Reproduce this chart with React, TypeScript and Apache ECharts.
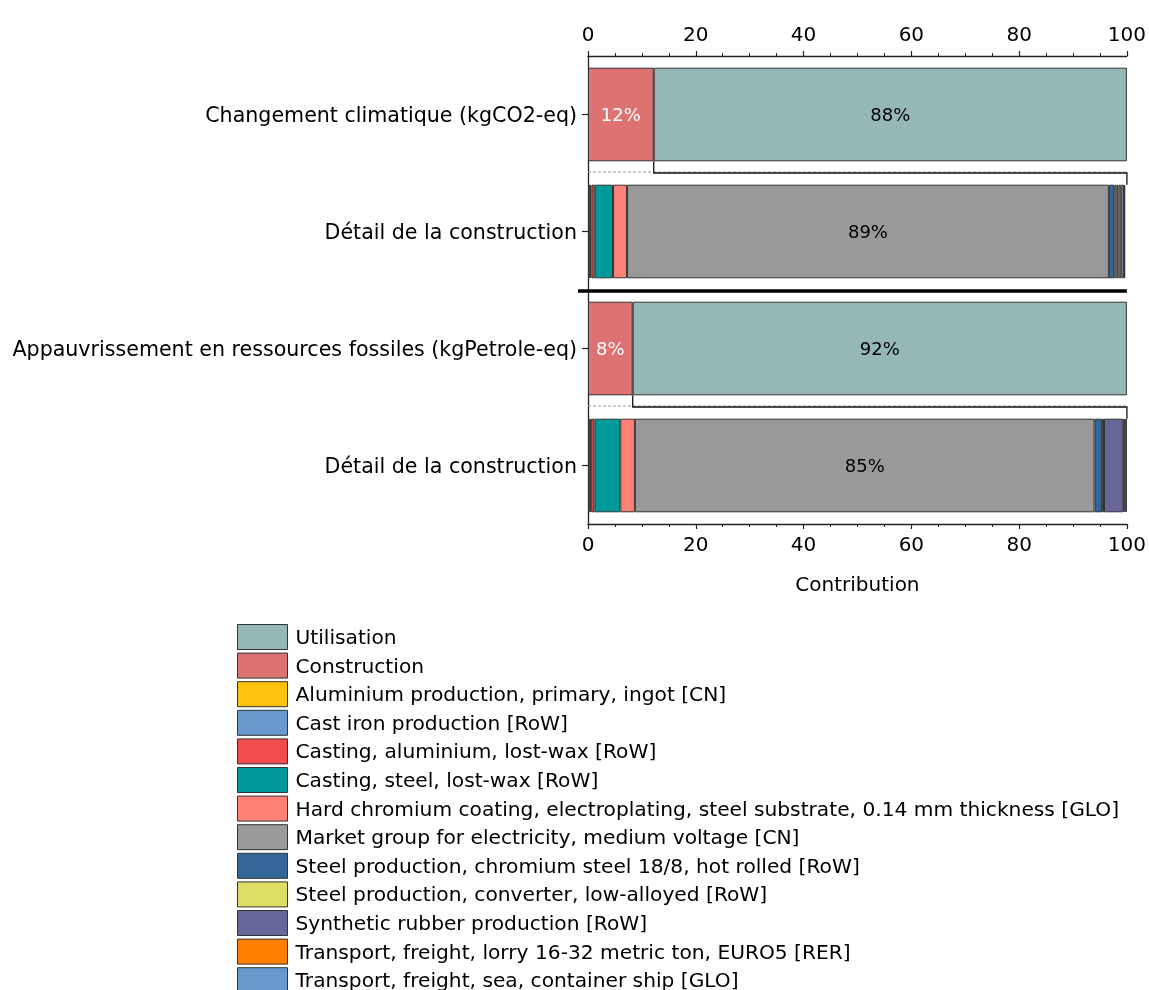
import React, { useEffect, useRef } from "react";
import * as echarts from "echarts";

const categories = [
  "Changement climatique (kgCO2-eq)",
  "Détail de la construction",
  "Appauvrissement en ressources fossiles (kgPetrole-eq)",
  "Détail de la construction",
];

const xTicks = [0, 20, 40, 60, 80, 100];

const construction = [12.2, null, 8.3, null];
const utilisation = [87.8, null, 91.7, null];
const aluminium = [null, 0.35, null, 0.4];
const castIron = [null, 0.3, null, 0.2];
const castingAlu = [null, 0.6, null, 0.6];
const castingSteel = [null, 3.4, null, 4.8];
const hardChromium = [null, 2.6, null, 2.7];
const marketElectricity = [null, 89.4, null, 85.3];
const steelChromium = [null, 1.0, null, 1.4];
const steelConverter = [null, 0.4, null, 0.35];
const syntheticRubber = [null, 0.4, null, 3.6];
const transportLorry = [null, 0.5, null, 0.2];
const transportSea = [null, 0.5, null, 0.15];
const otherContrib = [null, 0.25, null, 0.3];

const seriesDefs = [
  { name: "Construction", data: construction, color: "#DC7272", label: "#ffffff" },
  { name: "Utilisation", data: utilisation, color: "#95B8B7", label: "#000000" },
  { name: "Aluminium production, primary, ingot [CN]", data: aluminium, color: "#FFC20E" },
  { name: "Cast iron production [RoW]", data: castIron, color: "#6699CC" },
  { name: "Casting, aluminium, lost-wax [RoW]", data: castingAlu, color: "#F24B4D" },
  { name: "Casting, steel, lost-wax [RoW]", data: castingSteel, color: "#009999" },
  { name: "Hard chromium coating, electroplating, steel substrate, 0.14 mm thickness [GLO]", data: hardChromium, color: "#FF8177" },
  { name: "Market group for electricity, medium voltage [CN]", data: marketElectricity, color: "#999999", label: "#000000" },
  { name: "Steel production, chromium steel 18/8, hot rolled [RoW]", data: steelChromium, color: "#336699" },
  { name: "Steel production, converter, low-alloyed [RoW]", data: steelConverter, color: "#DEDE66" },
  { name: "Synthetic rubber production [RoW]", data: syntheticRubber, color: "#666699" },
  { name: "Transport, freight, lorry 16-32 metric ton, EURO5 [RER]", data: transportLorry, color: "#FF8000" },
  { name: "Transport, freight, sea, container ship [GLO]", data: transportSea, color: "#6699CC" },
  { name: "Autres", data: otherContrib, color: "#00CCCC" },
];

const legendOrder = [
  "Utilisation",
  "Construction",
  "Aluminium production, primary, ingot [CN]",
  "Cast iron production [RoW]",
  "Casting, aluminium, lost-wax [RoW]",
  "Casting, steel, lost-wax [RoW]",
  "Hard chromium coating, electroplating, steel substrate, 0.14 mm thickness [GLO]",
  "Market group for electricity, medium voltage [CN]",
  "Steel production, chromium steel 18/8, hot rolled [RoW]",
  "Steel production, converter, low-alloyed [RoW]",
  "Synthetic rubber production [RoW]",
  "Transport, freight, lorry 16-32 metric ton, EURO5 [RER]",
  "Transport, freight, sea, container ship [GLO]",
];

const FONT = "'DejaVu Sans', 'Liberation Sans', Arial, sans-serif";
const AXIS_COLOR = "#222";

export default function App() {
  const ref = useRef<HTMLDivElement>(null);

  useEffect(() => {
    if (!ref.current) return;
    const chart = echarts.init(ref.current, null, { renderer: "svg" });

    const xAxisBase = (position: string, extra: any) => ({
      type: "value",
      position,
      min: xTicks[0],
      max: xTicks[xTicks.length - 1],
      interval: xTicks[1] - xTicks[0],
      axisLine: { show: true, onZero: false, lineStyle: { color: AXIS_COLOR, width: 1.3 } },
      axisTick: { show: true, length: 5, lineStyle: { color: AXIS_COLOR, width: 1.2 } },
      minorTick: { show: true, splitNumber: 4, length: 3, lineStyle: { color: AXIS_COLOR, width: 1 } },
      splitLine: { show: false },
      minorSplitLine: { show: false },
      ...extra,
    });

    const option: any = {
      animation: false,
      textStyle: { fontFamily: FONT },
      grid: { left: 588, right: 20, top: 56, height: 468, containLabel: false },
      legend: {
        data: legendOrder,
        orient: "vertical",
        left: 237,
        top: 624,
        height: 420,
        padding: 0,
        itemWidth: 50,
        itemHeight: 25,
        itemGap: 2.6,
        icon: "rect",
        itemStyle: { borderColor: "#333", borderWidth: 1 },
        textStyle: { fontSize: 20.2, lineHeight: 20, color: "#000", fontFamily: FONT, padding: [0, 0, 0, 3] },
        selectedMode: false,
      },
      xAxis: [
        xAxisBase("bottom", {
          axisLabel: { fontSize: 20, color: "#000", margin: 10, fontFamily: FONT },
          name: "Contribution",
          nameLocation: "middle",
          nameGap: 50,
          nameTextStyle: { fontSize: 20, color: "#000", fontFamily: FONT },
        }),
        xAxisBase("top", {
          axisLabel: { fontSize: 20, color: "#000", margin: 12, fontFamily: FONT },
        }),
      ],
      yAxis: {
        type: "category",
        inverse: true,
        data: categories,
        axisLine: { show: true, lineStyle: { color: AXIS_COLOR, width: 1.3 } },
        axisTick: { show: true, alignWithLabel: true, length: 6, lineStyle: { color: AXIS_COLOR, width: 1.2 } },
        axisLabel: { fontSize: 20.6, color: "#000", margin: 11, fontFamily: FONT },
        splitLine: { show: false },
      },
      series: seriesDefs.map((s) => ({
        name: s.name,
        type: "bar",
        stack: "total",
        xAxisIndex: 0,
        barWidth: "80%",
        data: s.data,
        itemStyle: { color: s.color, borderColor: "#333", borderWidth: 1 },
        label: s.label
          ? {
              show: true,
              position: "inside",
              color: s.label,
              fontSize: 18,
              fontFamily: FONT,
              formatter: (p: any) => (p.value == null ? "" : Math.round(p.value) + "%"),
            }
          : { show: false },
      })),
    };

    chart.setOption(option);

    // Connector annotations computed from axis scales
    const px = (v: number) => chart.convertToPixel({ xAxisIndex: 0 }, v) as number;
    const py = (i: number) => chart.convertToPixel({ yAxisIndex: 0 }, i) as number;
    const bandH = Math.abs(py(1) - py(0));
    const half = (bandH * 0.8) / 2;
    const xMin = px(xTicks[0]);
    const xMax = px(xTicks[xTicks.length - 1]);

    const graphics: any[] = [];
    [0, 2].forEach((row) => {
      const xc = px(construction[row] as number);
      const yb = py(row) + half;
      const yt = py(row + 1) - half;
      const ym = (yb + yt) / 2;
      graphics.push({
        type: "line",
        shape: { x1: xMin, y1: ym - 1, x2: xMax, y2: ym - 1 },
        style: { stroke: "#999", lineWidth: 1, lineDash: [3, 2] },
        z: 10,
      });
      graphics.push({
        type: "polyline",
        shape: { points: [[xc, yb], [xc, ym], [xMax, ym], [xMax, yt]] },
        style: { stroke: "#111", lineWidth: 1.3, fill: null },
        z: 11,
      });
    });
    const ySep = (py(1) + py(2)) / 2 + 1;
    graphics.push({
      type: "line",
      shape: { x1: xMin - 10, y1: ySep, x2: xMax, y2: ySep },
      style: { stroke: "#000", lineWidth: 3.5 },
      z: 12,
    });

    chart.setOption({ graphic: graphics });

    return () => chart.dispose();
  }, []);

  return (
    <div
      ref={ref}
      style={{ position: "fixed", left: 0, top: 0, width: 1149, height: 990 }}
    />
  );
}
